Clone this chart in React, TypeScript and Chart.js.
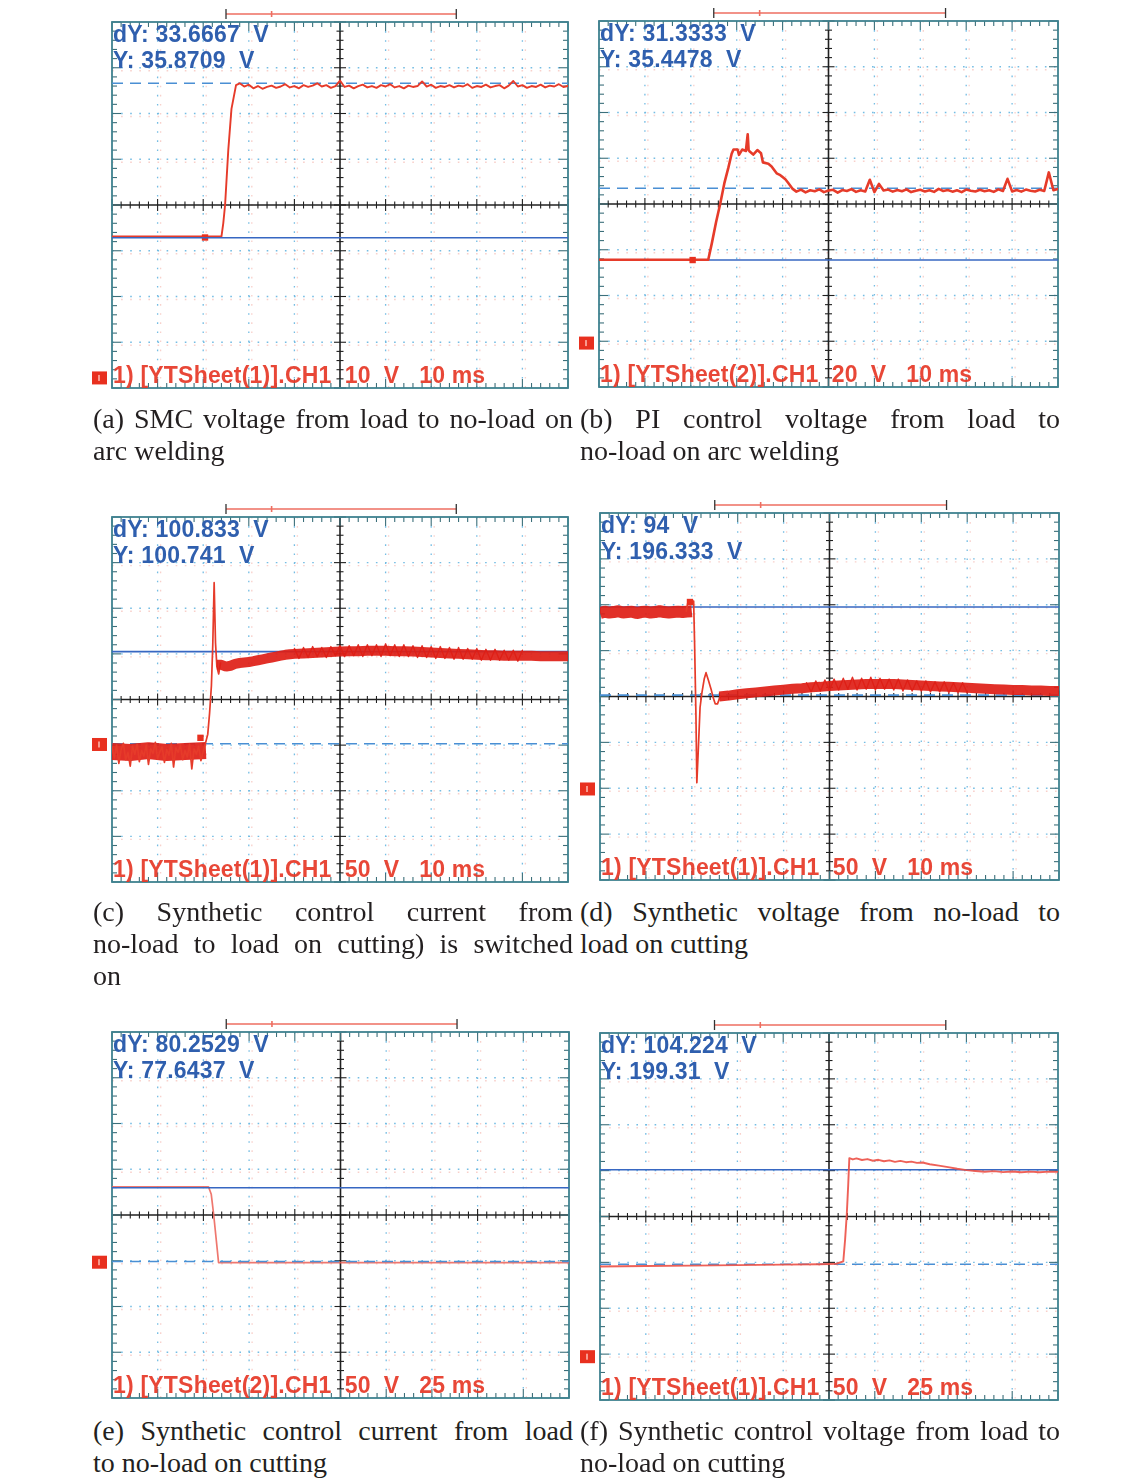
import React, { useEffect, useRef } from "react";
import { Chart, registerables } from "chart.js";
Chart.register(...registerables);

// ---------- DATA (x in ms from left edge, y in volts from screen centre) ----------
// (a) SMC voltage, 10 V/div, 10 ms/div
const aEdgeT = [0, 20, 24, 24.4, 24.8, 25.5, 26.2, 27.2];
const aEdgeV = [-6.9, -6.9, -6.9, -4, 0, 12, 21, 26.2];
const aTailStart = 28;
const aTailV = [26.6, 25.9, 26.3, 25.5, 26.0, 25.4, 25.8, 26.1, 25.6, 25.9, 26.4, 25.7, 26.0, 25.5, 26.2, 25.8, 26.1, 26.6, 25.9, 26.2, 25.6, 26.0, 27.2, 25.8, 26.1, 25.5, 26.0, 26.3, 25.7, 26.0, 25.6, 26.2, 25.9, 26.4, 25.7, 26.0, 25.5, 26.1, 25.8, 26.0, 27.0, 25.9, 26.3, 25.6, 26.0, 25.8, 26.2, 25.7, 26.1, 25.9, 26.4, 25.6, 26.0, 25.8, 26.3, 25.7, 26.0, 26.2, 25.5, 26.1, 27.1, 25.9, 26.2, 25.6, 26.0, 25.8, 26.3, 25.7, 26.1, 25.9, 26.4, 25.8, 26.0];
const aSolid = -7.15;
const aDashed = 26.6;
const aGround = -37.8;
const aMarker = [20.4, -7.1];

// (b) PI control voltage, 20 V/div, 10 ms/div
const bEdgeT = [0, 20, 23.8, 24.6, 25.5, 26.4, 27.3, 28.2, 28.9, 29.3, 30.2, 30.5, 31.2, 32.0, 32.4, 32.6, 32.9, 33.6, 34.5, 35.3, 35.7, 36.9, 37.6, 38.7, 39.5, 40.6, 41.2, 42.2];
const bEdgeV = [-24.4, -24.4, -24.4, -17, -8, 0, 9, 16, 22, 23.8, 23.8, 21.5, 23.8, 23.2, 30.5, 23.5, 22.8, 21.6, 23.6, 22.2, 18.2, 17.6, 16.4, 13.4, 12.6, 10.8, 9.3, 6.6];
const bTailStart = 43;
const bTailV = [5.4, 6.3, 5.1, 6.0, 5.6, 6.4, 5.2, 5.9, 6.2, 5.0, 6.1, 5.7, 6.5, 5.3, 6.0, 5.5, 10.6, 5.2, 8.8, 5.9, 6.3, 5.4, 6.1, 5.6, 6.4, 5.2, 5.8, 6.2, 5.5, 6.0, 5.3, 6.6, 5.7, 6.1, 5.4, 6.0, 5.2, 6.3, 5.8, 5.5, 6.2, 5.6, 6.0, 5.3, 6.4, 5.7, 11.0, 5.5, 6.1, 5.4, 6.3, 5.8, 5.5, 6.2, 5.7, 13.8, 6.0, 6.6];
const bSolid = -24.5;
const bDashed = 6.9;
const bGround = -60.8;
const bMarker = [20.4, -24.5];

// (c) Synthetic control current, 50 V/div, 10 ms/div
const cPreV = [-52, -64, -50, -70, -55, -48, -66, -58, -73, -51, -60, -49, -68, -56, -62, -50, -71, -54, -59, -47, -65, -57, -52, -69, -55, -61, -48, -74, -53, -58, -50, -66, -56, -63, -49, -76, -54, -60, -51, -67, -57, -48];
const cPreBandT = [0, 4, 8, 12, 16, 20.6];
const cPreBandV = [-57, -58, -56, -58, -57, -56];
const cEdgeT = [20.7, 21.0, 21.4, 21.8, 22.1, 22.4, 22.7, 23.0, 23.4, 23.8];
const cEdgeV = [-44, -38, -15, 15, 60, 128, 62, 36, 28, 40];
const cBandT = [23, 24, 25, 26, 27, 28, 29, 30, 31, 32, 33, 34, 35, 36, 37, 38, 39, 40, 42, 44, 46, 48, 50, 52, 54, 56, 58, 60, 62, 64, 66, 68, 70, 72, 74, 76, 78, 80, 82, 84, 86, 88, 90, 92, 94, 96, 98, 100];
const cBandV = [38, 38, 36, 37, 39, 40, 40.5, 41, 42, 43, 44, 45, 46, 47, 48, 49, 49.5, 50, 50.5, 51, 51.5, 52, 52.5, 53, 53, 53.5, 53.5, 53.5, 53, 53, 52.5, 52, 51.5, 51, 50.5, 50, 49.5, 49, 48.5, 48.5, 48, 48, 48, 48, 47.5, 47.5, 47.5, 47.5];
const cNoiseStart = 40;
const cNoiseV = [56, 45, 57, 46, 58, 47, 57, 46, 58, 48, 59, 47, 59, 48, 60, 47, 60, 48, 60, 47, 61, 48, 60, 47, 60, 47, 59, 46, 59, 46, 58, 45, 58, 45, 57, 44, 57, 44, 56, 44, 56, 43, 55, 43, 55, 43, 54, 43, 54, 42, 54];
const cSolid = 52.5;
const cDashed = -48.5;
const cGround = -49.3;
const cMarker = [19.4, -42];

// (d) Synthetic voltage, 50 V/div, 10 ms/div
const dPreV = [91, 92.5, 91.5, 92, 93, 91.5, 92, 92.5, 91, 92, 92.5, 91.5, 92, 93, 92, 91.5, 92, 92.5, 92, 92.5, 93];
const dEdgeT = [18.8, 19.2, 20.4, 20.6, 20.9, 21.1, 21.4, 21.8, 22.2, 22.7, 23.1, 23.6, 24.2, 24.7, 25.1, 25.6, 26.2];
const dEdgeV = [93, 104, 104, 60, -20, -94, -60, -12, 4, 19, 26, 18, 8, -2, -8, -8, 0];
const dBandStart = 26;
const dBandV = [0, 1, 2.5, 3.5, 4.5, 5.5, 6.5, 7.5, 8.5, 9, 10, 10.5, 11.5, 12, 12.5, 13, 13.5, 13.5, 13.5, 13.5, 13, 12.5, 12, 11.5, 11, 10.5, 10, 9.5, 9, 8.5, 8, 7.5, 7, 7, 6.5, 6.5, 6, 6];
const dNoiseStart = 45;
const dNoiseV = [15, 5, 17, 6, 18, 7, 19, 7, 20, 8, 21, 7, 20, 8, 21, 7, 20, 8, 19, 7, 19, 6, 18, 6, 17, 6, 17, 5, 16, 5, 16, 4, 15, 4, 15, 4];
const dSolid = 97.5;
const dDashed = 1.5;
const dGround = -100.8;
const dMarker = [19.6, 103];

// (e) Synthetic control current, 50 V/div, 25 ms/div
const eT = [0, 52.8, 54.3, 55.6, 57.1, 58.3, 250];
const eV = [30.8, 30.8, 22.6, 0.8, -28.4, -52, -52];
const eSolid = 29.8;
const eDashed = -50.8;
const eGround = -51.6;

// (f) Synthetic control voltage, 50 V/div, 25 ms/div
const fT = [0, 25, 50, 75, 100, 120, 129, 132.8, 133.8, 134.7, 135.5, 136.1, 138, 140, 143, 146, 149, 152, 155, 158, 161, 164, 167, 170, 173, 176, 180, 185, 190, 195, 200, 205, 210, 215, 220, 225, 230, 235, 240, 245, 250];
const fV = [-54.5, -54, -53.5, -53, -52.5, -52, -51.5, -49, -25, 2, 35, 63.6, 62.2, 63.4, 61.6, 62.6, 60.8, 61.8, 60.2, 61.2, 59.6, 60.6, 59.2, 59.8, 58.4, 58.8, 57, 55.5, 53.8, 52, 50.6, 49.6, 48.8, 49.4, 48.4, 49.1, 48.2, 48.9, 48.3, 48.9, 48.6];
const fSolid = 50.9;
const fDashed = -52;
const fGround = -152.8;

// cursor bars (in divisions)
const cursorDiv = [2.5, 7.55, 3.5];

// ---------- helpers ----------
const pts = (ts: number[], vs: number[]) => ts.map((t, i) => ({ x: t, y: vs[i] }));
const seg = (t0: number, dt: number, vs: number[]) => vs.map((v, i) => ({ x: t0 + i * dt, y: v }));

const RED = "#e63b2a";
const BAND = "rgba(222,30,22,0.92)";
const BLUE = "#3767c2";
const BLUE_D = "#4a8fd4";

const lineDs = (data: any[], color: string, width: number, extra: any = {}) => ({
  data,
  borderColor: color,
  borderWidth: width,
  pointRadius: 0,
  tension: 0,
  fill: false,
  borderJoinStyle: "round",
  borderCapStyle: "round",
  ...extra,
});
const bandDs = (data: any[], width: number) => lineDs(data, BAND, width, { borderCapStyle: "butt", borderJoinStyle: "bevel" });
const levelDs = (v: number, xMax: number, dashed: boolean) =>
  lineDs([{ x: 0, y: v }, { x: xMax, y: v }], dashed ? BLUE_D : BLUE, 1.6, dashed ? { borderDash: [11, 7], borderCapStyle: "butt" } : {});
const markerDs = (m: number[]) => ({
  data: [{ x: m[0], y: m[1] }],
  showLine: false,
  pointStyle: "rect",
  pointRadius: 4.5,
  pointBackgroundColor: "#e8301f",
  pointBorderColor: "#e8301f",
  borderWidth: 0,
});

const PADL = 24, PADT = 18, PADR = 8, PADB = 8;

const scopePlugin = {
  id: "scope",
  beforeDatasetsDraw(chart: any, _a: any, o: any) {
    const { ctx, chartArea } = chart;
    const xs = chart.scales.x, ys = chart.scales.y;
    const { left, right, top, bottom } = chartArea;
    const ln = (x1: number, y1: number, x2: number, y2: number) => {
      ctx.beginPath(); ctx.moveTo(x1, y1); ctx.lineTo(x2, y2); ctx.stroke();
    };
    ctx.save();
    // dotted graticule
    ctx.lineWidth = 1.3;
    ctx.setLineDash([1.6, 7.5]);
    const gridCols: number[] = [];
    for (let i = 1; i < 10; i++) if (i !== 5) gridCols.push(xs.getPixelForValue(i * o.xDiv));
    const gridRows: number[] = [];
    for (let j = -3; j <= 3; j++) if (j !== 0) gridRows.push(ys.getPixelForValue(j * o.yDiv));
    ctx.strokeStyle = "rgba(240,150,140,0.45)";
    gridCols.forEach((px) => ln(px + 3, top, px + 3, bottom));
    gridRows.forEach((py) => ln(left, py + 3, right, py + 3));
    ctx.strokeStyle = "rgba(110,185,225,0.95)";
    gridCols.forEach((px) => ln(px, top, px, bottom));
    gridRows.forEach((py) => ln(left, py, right, py));
    ctx.setLineDash([]);
    // centre cross
    const cx = xs.getPixelForValue(5 * o.xDiv), cy = ys.getPixelForValue(0);
    ctx.strokeStyle = "#202020";
    ctx.lineWidth = 1.6;
    ln(left, cy, right, cy);
    ln(cx, top, cx, bottom);
    ctx.lineWidth = 1.1;
    for (let k = 0; k <= 50; k++) {
      const px = xs.getPixelForValue((k * o.xDiv) / 5);
      const len = k % 5 === 0 ? 6 : 3.5;
      ln(px, cy - len, px, cy + len);
    }
    for (let k = 0; k <= 40; k++) {
      const py = ys.getPixelForValue(-4 * o.yDiv + (k * o.yDiv) / 5);
      const len = k % 5 === 0 ? 6 : 3.5;
      ln(cx - len, py, cx + len, py);
    }
    // border ticks
    ctx.strokeStyle = "#3c6f7a";
    for (let k = 0; k <= 50; k++) {
      const px = xs.getPixelForValue((k * o.xDiv) / 5);
      const len = k % 5 === 0 ? 9 : 5;
      ln(px, top, px, top + len);
      ln(px, bottom - len, px, bottom);
    }
    for (let k = 0; k <= 40; k++) {
      const py = ys.getPixelForValue(-4 * o.yDiv + (k * o.yDiv) / 5);
      const len = k % 5 === 0 ? 9 : 5;
      ln(left, py, left + len, py);
      ln(right - len, py, right, py);
    }
    ctx.strokeStyle = "#3f8290";
    ctx.lineWidth = 1.8;
    ctx.strokeRect(left, top, right - left, bottom - top);
    // cursor bar on top
    const c1 = xs.getPixelForValue(o.cursor[0] * o.xDiv);
    const c2 = xs.getPixelForValue(o.cursor[1] * o.xDiv);
    const c3 = xs.getPixelForValue(o.cursor[2] * o.xDiv);
    const by = top - 8;
    ctx.strokeStyle = "#ee6e60";
    ctx.lineWidth = 1.6;
    ln(c1, by, c2, by);
    ln(c3, by - 3, c3, by + 3);
    ctx.strokeStyle = "#333";
    ctx.lineWidth = 1.3;
    ln(c1, by - 5, c1, by + 5);
    ln(c2, by - 5, c2, by + 5);
    // ground marker
    const gy = ys.getPixelForValue(o.ground);
    ctx.fillStyle = "#e8301f";
    ctx.fillRect(left - 20, gy - 6.5, 15, 13);
    ctx.fillStyle = "rgba(255,200,190,0.7)";
    ctx.fillRect(left - 14, gy - 3, 2, 6);
    ctx.restore();
  },
};

type PanelCfg = {
  left: number; top: number; w: number; h: number;
  xDiv: number; yDiv: number; ground: number;
  datasets: any[];
  dY: string; Y: string; ch: string;
};

const xMax10 = 100, xMax25 = 250;

const panels: PanelCfg[] = [
  {
    left: 112, top: 22, w: 456, h: 366, xDiv: 10, yDiv: 10, ground: aGround,
    datasets: [
      levelDs(aSolid, xMax10, false),
      markerDs(aMarker),
      lineDs([...pts(aEdgeT, aEdgeV), ...seg(aTailStart, 1, aTailV)], RED, 1.9),
      levelDs(aDashed, xMax10, true),
    ],
    dY: "dY: 33.6667  V", Y: "Y: 35.8709  V", ch: "1) [YTSheet(1)].CH1  10  V   10 ms",
  },
  {
    left: 599, top: 21, w: 459, h: 366, xDiv: 10, yDiv: 20, ground: bGround,
    datasets: [
      markerDs(bMarker),
      lineDs([...pts(bEdgeT, bEdgeV), ...seg(bTailStart, 1, bTailV)], RED, 2.6),
      levelDs(bSolid, xMax10, false),
      levelDs(bDashed, xMax10, true),
    ],
    dY: "dY: 31.3333  V", Y: "Y: 35.4478  V", ch: "1) [YTSheet(2)].CH1  20  V   10 ms",
  },
  {
    left: 112, top: 517, w: 456, h: 365, xDiv: 10, yDiv: 50, ground: cGround,
    datasets: [
      markerDs(cMarker),
      lineDs(seg(cNoiseStart, 1, cNoiseV), BAND, 1.4),
      bandDs(pts(cBandT, cBandV), 10),
      lineDs([...seg(0, 0.5, cPreV), ...pts(cEdgeT, cEdgeV)], RED, 1.7),
      bandDs(pts(cPreBandT, cPreBandV), 17),
      levelDs(cSolid, xMax10, false),
      levelDs(cDashed, xMax10, true),
    ],
    dY: "dY: 100.833  V", Y: "Y: 100.741  V", ch: "1) [YTSheet(1)].CH1  50  V   10 ms",
  },
  {
    left: 600, top: 513, w: 459, h: 367, xDiv: 10, yDiv: 50, ground: dGround,
    datasets: [
      markerDs(dMarker),
      lineDs(seg(dNoiseStart, 1, dNoiseV), BAND, 1.4),
      bandDs(seg(dBandStart, 2, dBandV), 10),
      lineDs(pts(dEdgeT, dEdgeV), RED, 1.7),
      bandDs(seg(0, 1, dPreV), 12),
      levelDs(dSolid, xMax10, false),
      levelDs(dDashed, xMax10, true),
    ],
    dY: "dY: 94  V", Y: "Y: 196.333  V", ch: "1) [YTSheet(1)].CH1  50  V   10 ms",
  },
  {
    left: 112, top: 1032, w: 457, h: 366, xDiv: 25, yDiv: 50, ground: eGround,
    datasets: [
      levelDs(eSolid, xMax25, false),
      levelDs(eDashed, xMax25, true),
      lineDs(pts(eT, eV), "rgba(236,95,85,0.85)", 1.7),
    ],
    dY: "dY: 80.2529  V", Y: "Y: 77.6437  V", ch: "1) [YTSheet(2)].CH1  50  V   25 ms",
  },
  {
    left: 600, top: 1033, w: 458, h: 367, xDiv: 25, yDiv: 50, ground: fGround,
    datasets: [
      lineDs(pts(fT, fV), "rgba(236,80,70,0.9)", 1.9),
      levelDs(fSolid, xMax25, false),
      levelDs(fDashed, xMax25, true),
    ],
    dY: "dY: 104.224  V", Y: "Y: 199.31  V", ch: "1) [YTSheet(1)].CH1  50  V   25 ms",
  },
];

const captions: { left: number; top: number; lines: string[] }[] = [
  { left: 93, top: 403, lines: ["(a) SMC voltage from load to no-load on", "arc welding"] },
  { left: 580, top: 403, lines: ["(b) PI control voltage from load to", "no-load on arc welding"] },
  { left: 93, top: 896, lines: ["(c) Synthetic control current from", "no-load to load on cutting) is switched", "on"] },
  { left: 580, top: 896, lines: ["(d) Synthetic voltage from no-load to", "load on cutting"] },
  { left: 93, top: 1415, lines: ["(e) Synthetic control current from load", "to no-load on cutting"] },
  { left: 580, top: 1415, lines: ["(f) Synthetic control voltage from load to", "no-load on cutting"] },
];

function Scope({ cfg }: { cfg: PanelCfg }) {
  const ref = useRef<HTMLCanvasElement>(null);
  const cw = cfg.w + PADL + PADR;
  const chh = cfg.h + PADT + PADB;
  useEffect(() => {
    const chart = new Chart(ref.current as HTMLCanvasElement, {
      type: "line",
      data: { datasets: cfg.datasets },
      options: {
        animation: false,
        responsive: false,
        events: [],
        layout: { padding: { left: PADL, top: PADT, right: PADR, bottom: PADB } },
        scales: {
          x: { type: "linear", display: false, min: 0, max: cfg.xDiv * 10 },
          y: { type: "linear", display: false, min: -4 * cfg.yDiv, max: 4 * cfg.yDiv },
        },
        plugins: {
          legend: { display: false },
          tooltip: { enabled: false },
          scope: { xDiv: cfg.xDiv, yDiv: cfg.yDiv, ground: cfg.ground, cursor: cursorDiv },
        } as any,
      },
      plugins: [scopePlugin as any],
    });
    return () => chart.destroy();
  }, []);
  const lab: React.CSSProperties = {
    position: "absolute",
    left: PADL + 1,
    fontFamily: '"Liberation Sans", Arial, sans-serif',
    fontWeight: "bold",
    fontSize: 23,
    lineHeight: "23px",
    whiteSpace: "pre",
    letterSpacing: 0.2,
  };
  return (
    <div style={{ position: "absolute", left: cfg.left - PADL, top: cfg.top - PADT, width: cw, height: chh }}>
      <canvas ref={ref} width={cw} height={chh} style={{ width: cw, height: chh, display: "block" }} />
      <div style={{ ...lab, top: PADT + 0.5, color: "#2f5fae" }}>{cfg.dY}</div>
      <div style={{ ...lab, top: PADT + 27, color: "#2f5fae" }}>{cfg.Y}</div>
      <div style={{ ...lab, top: PADT + cfg.h - 24.5, color: "rgba(230,55,38,0.92)" }}>{cfg.ch}</div>
    </div>
  );
}

function Caption({ c }: { c: { left: number; top: number; lines: string[] } }) {
  return (
    <div
      style={{
        position: "absolute",
        left: c.left,
        top: c.top,
        width: 480,
        fontFamily: '"Liberation Serif", "Times New Roman", serif',
        fontSize: 28,
        lineHeight: "32px",
        color: "#231f20",
      }}
    >
      {c.lines.map((l, i) => {
        const last = i === c.lines.length - 1;
        return (
          <div key={i} style={{ textAlign: last ? "left" : "justify", textAlignLast: last ? "left" : "justify" } as any}>
            {l}
          </div>
        );
      })}
    </div>
  );
}

export default function App() {
  return (
    <div style={{ position: "absolute", left: 0, top: 0, width: 1140, height: 1478, background: "#ffffff", overflow: "hidden" }}>
      {panels.map((p, i) => (
        <Scope key={i} cfg={p} />
      ))}
      {captions.map((c, i) => (
        <Caption key={i} c={c} />
      ))}
    </div>
  );
}
